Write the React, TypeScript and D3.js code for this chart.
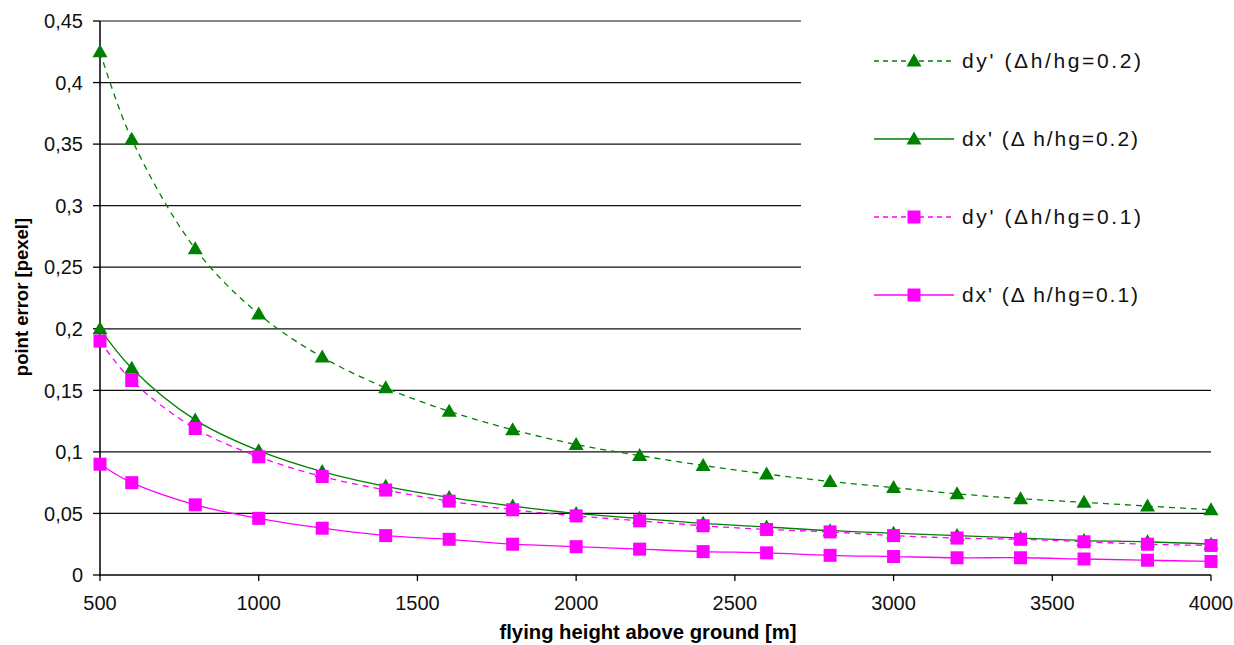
import React from "react";
import * as d3 from "d3";

const heights = [500, 600, 800, 1000, 1200, 1400, 1600, 1800, 2000, 2200, 2400, 2600, 2800, 3000, 3200, 3400, 3600, 3800, 4000];
const dy02 = [0.425, 0.354, 0.265, 0.212, 0.177, 0.152, 0.133, 0.118, 0.106, 0.097, 0.089, 0.082, 0.076, 0.071, 0.066, 0.062, 0.059, 0.056, 0.053];
const dx02 = [0.2, 0.168, 0.126, 0.101, 0.084, 0.072, 0.063, 0.056, 0.05, 0.046, 0.042, 0.039, 0.036, 0.034, 0.032, 0.03, 0.028, 0.027, 0.025];
const dy01 = [0.19, 0.158, 0.119, 0.096, 0.08, 0.069, 0.06, 0.053, 0.048, 0.044, 0.04, 0.037, 0.035, 0.032, 0.03, 0.029, 0.027, 0.025, 0.024];
const dx01 = [0.09, 0.075, 0.057, 0.046, 0.038, 0.032, 0.029, 0.025, 0.023, 0.021, 0.019, 0.018, 0.016, 0.015, 0.014, 0.014, 0.013, 0.012, 0.011];
const xTicks = [500, 1000, 1500, 2000, 2500, 3000, 3500, 4000];
const yTicks = [0, 0.05, 0.1, 0.15, 0.2, 0.25, 0.3, 0.35, 0.4, 0.45];
const legendLabels = ["dy' (\u0394h/hg=0.2)", "dx' (\u0394 h/hg=0.2)", "dy' (\u0394h/hg=0.1)", "dx' (\u0394 h/hg=0.1)"];

const GREEN = "#008000";
const PINK = "#ff00ff";

const series = [
  { values: dy02, color: GREEN, dashed: true, marker: "tri", label: legendLabels[0] },
  { values: dx02, color: GREEN, dashed: false, marker: "tri", label: legendLabels[1] },
  { values: dy01, color: PINK, dashed: true, marker: "sq", label: legendLabels[2] },
  { values: dx01, color: PINK, dashed: false, marker: "sq", label: legendLabels[3] },
];

const FONT = "'Liberation Sans', Arial, sans-serif";

function Marker({ kind, x, y, color }: { kind: string; x: number; y: number; color: string }) {
  if (kind === "tri") {
    return <path d={`M${x},${y - 7.5}L${x + 7.5},${y + 5.5}L${x - 7.5},${y + 5.5}Z`} fill={color} />;
  }
  return <rect x={x - 6.5} y={y - 6.5} width={13} height={13} fill={color} />;
}

export default function App() {
  const x = d3.scaleLinear().domain([500, 4000]).range([100, 1211]);
  const y = d3.scaleLinear().domain([0, 0.45]).range([575, 21]);
  const fmt = (v: number) => (v === 0 ? "0" : d3.format("")(+v.toFixed(2)).replace(".", ","));
  const line = d3
    .line<number>()
    .x((_, i) => x(heights[i]))
    .y((d) => y(d))
    .curve(d3.curveCatmullRom.alpha(0.5));

  const legendYs = [61, 139, 217, 295];

  return (
    <svg
      width={1234}
      height={645}
      style={{ position: "absolute", left: 0, top: 0, background: "#fff" }}
      fontFamily={FONT}
    >
      <rect x={0} y={0} width={1234} height={645} fill="#fff" />
      {yTicks.filter((t) => t > 0).map((t) => (
        <line key={t} x1={100} x2={1211} y1={y(t)} y2={y(t)} stroke="#111" strokeWidth={1.2} />
      ))}
      <rect x={801} y={0} width={433} height={342} fill="#fff" />
      <line x1={100} x2={100} y1={21} y2={576} stroke="#000" strokeWidth={1.5} />
      <line x1={99} x2={1211} y1={575} y2={575} stroke="#000" strokeWidth={1.5} />
      {yTicks.map((t) => (
        <g key={t}>
          <line x1={93} x2={100} y1={y(t)} y2={y(t)} stroke="#000" strokeWidth={1.3} />
          <text x={83} y={y(t)} dy="0.36em" textAnchor="end" fontSize={20} fill="#111">
            {fmt(t)}
          </text>
        </g>
      ))}
      {xTicks.map((t) => (
        <g key={t}>
          <line x1={x(t)} x2={x(t)} y1={575} y2={581} stroke="#000" strokeWidth={1.3} />
          <text x={x(t)} y={610} textAnchor="middle" fontSize={20} fill="#111">
            {t}
          </text>
        </g>
      ))}
      <text x={648} y={639} textAnchor="middle" fontSize={19.5} fontWeight="bold" fill="#000"
        textLength={297} lengthAdjust="spacingAndGlyphs">
        flying height above ground [m]
      </text>
      <text
        transform={`translate(28,297) rotate(-90)`}
        textAnchor="middle"
        fontSize={18.5}
        fontWeight="bold"
        fill="#000"
      >
        point error [pexel]
      </text>
      {series.map((s, si) => (
        <g key={si}>
          <path
            d={line(s.values) || ""}
            fill="none"
            stroke={s.color}
            strokeWidth={1.3}
            strokeDasharray={s.dashed ? "6,5" : undefined}
          />
          {s.values.map((v, i) => (
            <Marker key={i} kind={s.marker} x={x(heights[i])} y={y(v)} color={s.color} />
          ))}
        </g>
      ))}
      {series.map((s, si) => (
        <g key={si}>
          <line
            x1={874}
            x2={954}
            y1={legendYs[si]}
            y2={legendYs[si]}
            stroke={s.color}
            strokeWidth={1.3}
            strokeDasharray={s.dashed ? "5,4" : undefined}
          />
          <Marker kind={s.marker} x={914} y={legendYs[si]} color={s.color} />
          <text
            x={962}
            y={legendYs[si]}
            dy="0.35em"
            fontSize={21}
            fill="#111"
            textLength={si % 2 === 0 ? 179 : 176}
            lengthAdjust="spacing"
          >
            {s.label}
          </text>
        </g>
      ))}
    </svg>
  );
}
